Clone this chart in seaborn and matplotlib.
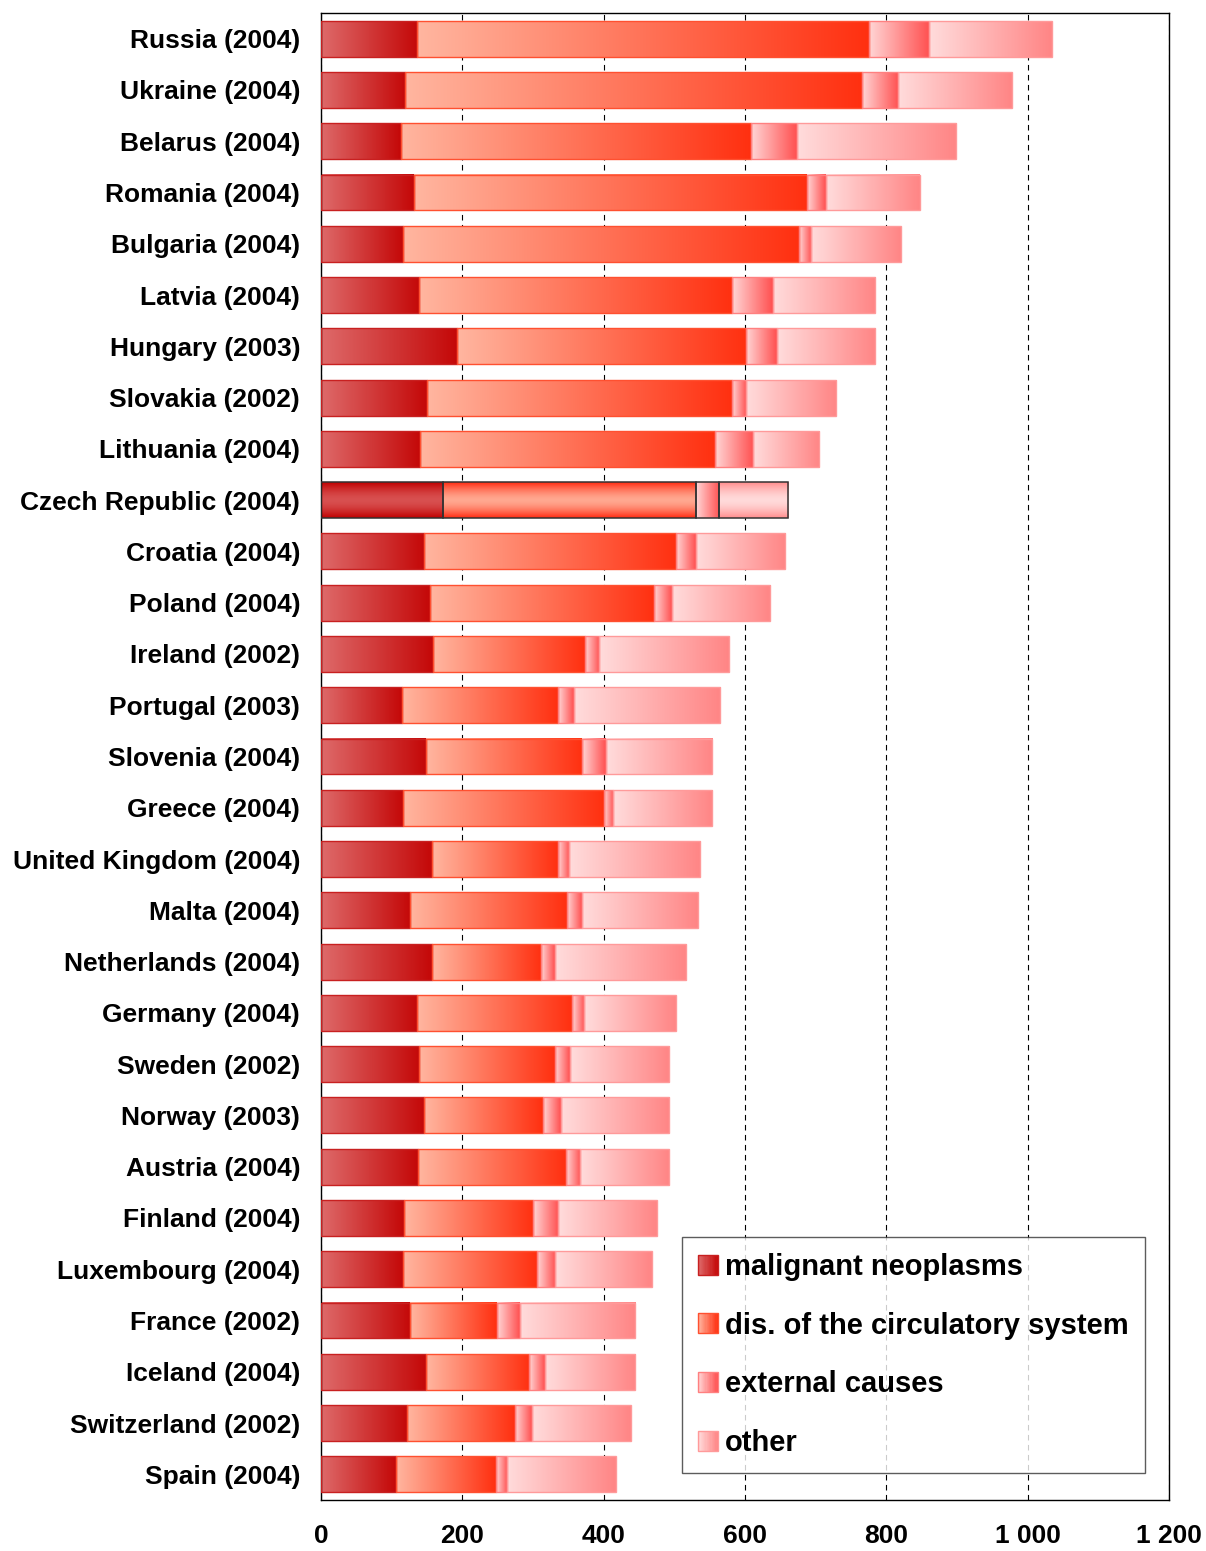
import numpy as np
import pandas as pd
import seaborn as sns
import matplotlib.pyplot as plt
from matplotlib.patches import Rectangle
from matplotlib.legend_handler import HandlerBase
from matplotlib.colors import to_rgb

# data (deaths per 100 000, stacked by cause)
countries = ["Russia (2004)", "Ukraine (2004)", "Belarus (2004)", "Romania (2004)",
             "Bulgaria (2004)", "Latvia (2004)", "Hungary (2003)", "Slovakia (2002)",
             "Lithuania (2004)", "Czech Republic (2004)", "Croatia (2004)", "Poland (2004)",
             "Ireland (2002)", "Portugal (2003)", "Slovenia (2004)", "Greece (2004)",
             "United Kingdom (2004)", "Malta (2004)", "Netherlands (2004)", "Germany (2004)",
             "Sweden (2002)", "Norway (2003)", "Austria (2004)", "Finland (2004)",
             "Luxembourg (2004)", "France (2002)", "Iceland (2004)", "Switzerland (2002)",
             "Spain (2004)"]
neoplasms = [136, 119, 113, 131, 116, 139, 192, 150, 140, 172, 146, 154, 158, 114, 148,
             116, 157, 126, 157, 136, 139, 146, 137, 117, 116, 126, 148, 122, 106]
circulatory = [639, 646, 495, 557, 560, 443, 410, 431, 417, 358, 357, 317, 215, 222, 222,
               284, 178, 222, 155, 219, 192, 168, 209, 183, 189, 123, 147, 152, 141]
external = [86, 52, 65, 26, 18, 57, 43, 20, 54, 33, 28, 25, 21, 22, 33,
            13, 16, 21, 19, 17, 21, 25, 21, 36, 26, 32, 22, 24, 16]
other = [174, 161, 226, 133, 127, 145, 139, 128, 94, 98, 126, 140, 183, 207, 151,
         141, 186, 164, 186, 130, 141, 153, 125, 140, 137, 164, 128, 140, 154]

series_labels = ["malignant neoplasms", "dis. of the circulatory system", "external causes", "other"]
xticks = [0, 200, 400, 600, 800, 1000, 1200]
xticklabels = ["0", "200", "400", "600", "800", "1 000", "1 200"]
highlight = "Czech Republic (2004)"

df = pd.DataFrame({"country": countries, "neo": neoplasms, "circ": circulatory,
                   "ext": external, "other": other})

# gradient colours: (left, right, edge) and for the highlighted bar (outer, centre)
styles = [
    ("neo", "#DE6A6A", "#C40808", "#C82020", "#C00000", "#D85050"),
    ("circ", "#FFB6A0", "#FF3010", "#FF5030", "#FF2A10", "#FFA890"),
    ("ext", "#FFD6D6", "#FF5050", "#FF8080", None, None),
    ("other", "#FFDCDC", "#FF8585", "#FF9A9A", "#FF8C8C", "#FFDADA"),
]

sns.set_style("white")
plt.rcParams["font.family"] = ["Liberation Sans", "DejaVu Sans"]
plt.rcParams["font.weight"] = "bold"
plt.rcParams["text.color"] = "black"
plt.rcParams["xtick.color"] = "black"
plt.rcParams["ytick.color"] = "black"

fig = plt.figure(figsize=(12.06, 15.51), dpi=100)
ax = fig.add_axes([321 / 1206, 51 / 1551, 848 / 1206, 1487 / 1551])


def hgrad(c0, c1, n=256):
    t = np.linspace(0, 1, n)[None, :, None]
    return np.array(to_rgb(c0))[None, None, :] * (1 - t) + np.array(to_rgb(c1))[None, None, :] * t


def vgrad(outer, centre, n=128):
    t = np.linspace(0, 1, n)
    w = (np.abs(2 * t - 1) ** 1.6)[:, None, None]
    return np.array(to_rgb(centre))[None, None, :] * (1 - w) + np.array(to_rgb(outer))[None, None, :] * w


left = np.zeros(len(countries))
for key, c0, c1, ec, hout, hcen in styles:
    start = len(ax.patches)
    sns.barplot(data=df, x=key, y="country", orient="h", color=c1, saturation=1,
                width=0.7, errorbar=None, ax=ax)
    for i, p in enumerate(ax.patches[start:]):
        p.set_x(left[i])
        x0, y0, w, h = p.get_x(), p.get_y(), p.get_width(), p.get_height()
        if countries[i] == highlight and hout is not None:
            img = vgrad(hout, hcen)
        else:
            img = hgrad(c0, c1)
        ax.imshow(img, extent=[x0, x0 + w, y0 + h, y0], aspect="auto",
                  interpolation="bilinear", zorder=2)
        p.set_facecolor("none")
        p.set_zorder(3)
        if countries[i] == highlight:
            p.set_edgecolor("#333333")
            p.set_linewidth(1.1)
        else:
            p.set_edgecolor(ec)
            p.set_linewidth(1.0)
    left = left + df[key].values

ax.set_xlim(0, 1200)
ax.set_ylim(len(countries) - 0.5, -0.5)
ax.set_xlabel("")
ax.set_ylabel("")

# grid and axes
ax.set_axisbelow(True)
ax.xaxis.grid(True, linestyle=(0, (5, 4)), color="black", linewidth=0.8)
for s in ax.spines.values():
    s.set_visible(True)
    s.set_color("black")
    s.set_linewidth(1)

ax.set_xticks(xticks)
ax.set_xticklabels(xticklabels, fontsize=19, fontweight="bold", color="black")
ax.tick_params(axis="x", direction="inout", length=14, width=1, pad=10, colors="black")
ax.tick_params(axis="y", which="major", length=0, pad=15, labelsize=19, labelcolor="black")
ax.set_yticks(np.arange(-0.5, len(countries), 1), minor=True)
ax.tick_params(axis="y", which="minor", direction="out", length=5, width=1, color="black")
for t in ax.get_yticklabels():
    t.set_fontweight("bold")
    t.set_color("black")


class GradHandler(HandlerBase):
    def __init__(self, c0, c1, ec):
        super().__init__()
        self.c0, self.c1, self.ec = np.array(to_rgb(c0)), np.array(to_rgb(c1)), ec

    def create_artists(self, legend, orig_handle, xdescent, ydescent, width, height, fontsize, trans):
        arts = []
        k = 16
        for j in range(k):
            t = (j + 0.5) / k
            arts.append(Rectangle((-xdescent + j * width / k, -ydescent), width / k + 0.05, height,
                                  facecolor=self.c0 * (1 - t) + self.c1 * t, edgecolor="none",
                                  transform=trans))
        arts.append(Rectangle((-xdescent, -ydescent), width, height, facecolor="none",
                              edgecolor=self.ec, linewidth=1, transform=trans))
        return arts


handles = [Rectangle((0, 0), 1, 1) for _ in styles]
hmap = {h: GradHandler(s[1], s[2], s[3]) for h, s in zip(handles, styles)}
leg = ax.legend(handles, series_labels, handler_map=hmap, loc="upper left",
                bbox_to_anchor=(682 / 1206, 1 - 1237 / 1551), bbox_transform=fig.transFigure,
                borderaxespad=0, prop={"size": 21, "weight": "bold"}, frameon=True,
                fancybox=False, handlelength=0.68, handleheight=0.68, handletextpad=0.25,
                labelspacing=1.05, borderpad=0.55, labelcolor="black")
leg.get_frame().set_edgecolor("#333333")
leg.get_frame().set_linewidth(1)
leg.set_zorder(5)

fig.savefig("out.png", dpi=100, facecolor="white")
